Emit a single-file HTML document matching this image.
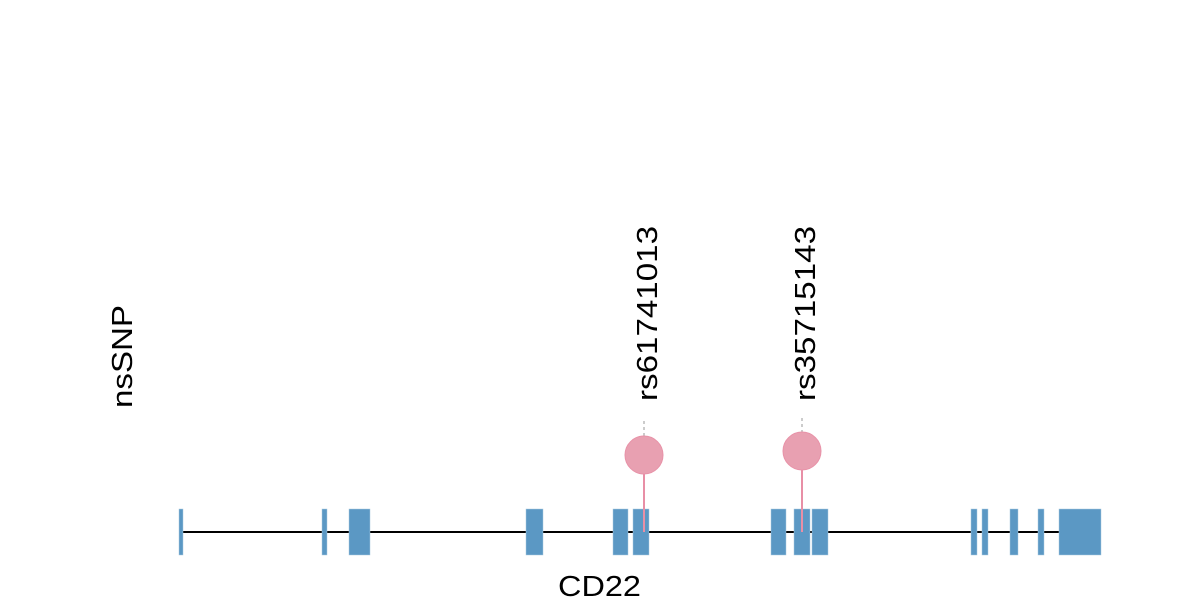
<!DOCTYPE html>
<html><head><style>body{margin:0;background:#fff}</style></head><body>
<svg width="1200" height="600" xmlns="http://www.w3.org/2000/svg" font-family="Liberation Sans, sans-serif">
<line x1="181" y1="532" x2="1062" y2="532" stroke="#000" stroke-width="2"/>
<g fill="#5b98c4" stroke="#a9c9e0" stroke-width="0.5">
<rect x="179" y="509" width="4" height="46"/>
<rect x="322" y="509" width="5" height="46"/>
<rect x="349" y="509" width="21" height="46"/>
<rect x="526" y="509" width="17" height="46"/>
<rect x="613" y="509" width="15" height="46"/>
<rect x="633" y="509" width="16" height="46"/>
<rect x="771" y="509" width="15" height="46"/>
<rect x="794" y="509" width="16" height="46"/>
<rect x="812" y="509" width="16" height="46"/>
<rect x="971" y="509" width="6" height="46"/>
<rect x="982" y="509" width="6" height="46"/>
<rect x="1010" y="509" width="8" height="46"/>
<rect x="1038" y="509" width="6" height="46"/>
<rect x="1059" y="509" width="42" height="46"/>
</g>
<line x1="644" y1="421" x2="644" y2="436" stroke="#bbb" stroke-width="1.5" stroke-dasharray="3,3"/>
<line x1="802" y1="418" x2="802" y2="432" stroke="#bbb" stroke-width="1.5" stroke-dasharray="3,3"/>
<line x1="644" y1="455" x2="644" y2="532" stroke="#e88fa6" stroke-width="2"/>
<line x1="802" y1="451" x2="802" y2="532" stroke="#e88fa6" stroke-width="2"/>
<circle cx="644" cy="455" r="19" fill="#e8a0b1" stroke="#e892a8"/>
<circle cx="802" cy="451" r="19" fill="#e8a0b1" stroke="#e892a8"/>
<text transform="translate(657,401) rotate(-90)" font-size="29" textLength="175" lengthAdjust="spacingAndGlyphs">rs61741013</text>
<text transform="translate(815,401) rotate(-90)" font-size="29" textLength="175" lengthAdjust="spacingAndGlyphs">rs35715143</text>
<text transform="translate(132,408) rotate(-90)" font-size="29" textLength="103" lengthAdjust="spacingAndGlyphs">nsSNP</text>
<text x="558" y="596" font-size="29" textLength="83" lengthAdjust="spacingAndGlyphs">CD22</text>
</svg>
</body></html>
